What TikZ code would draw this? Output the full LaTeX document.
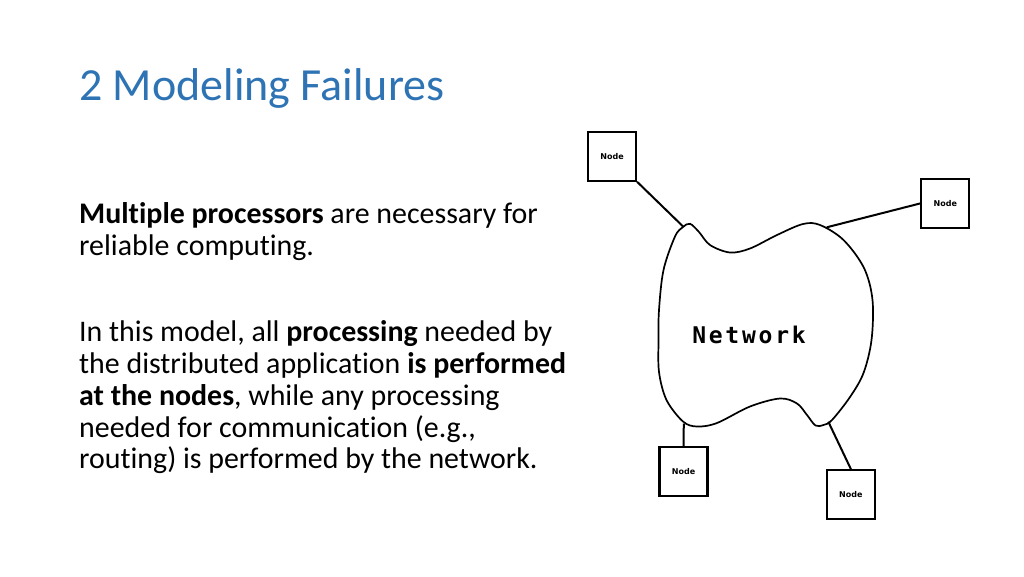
\documentclass[tikz,border=0pt]{standalone}
\usepackage{fontspec}
\setmainfont{Carlito}[Ligatures={NoCommon}]
\newfontfamily\netfont[LetterSpace=12]{DejaVu Sans Mono}
\newfontfamily\nodefont{DejaVu Sans}
\definecolor{titleblue}{RGB}{46,116,181}
\begin{document}
\begin{tikzpicture}[x=1pt,y=-1pt,
  titletext/.style={anchor=base west,inner sep=0,text=titleblue,font=\fontsize{46}{56}\selectfont},
  bodyline/.style={anchor=base west,inner sep=0,font=\fontsize{29.9}{32}\selectfont},
  nodebox/.style={draw,line width=2.1pt,minimum width=48pt,minimum height=49pt,inner sep=0,font=\nodefont\bfseries\fontsize{8}{8}\selectfont},
  link/.style={line width=2pt},
  blob/.style={line width=1.7pt}]
\useasboundingbox (0,0) rectangle (1024,576);
\fill[white] (0,0) rectangle (1024,576);
% title
\node[titletext] (title) at (79,100) {2 Modeling Failures};
% body text
\node[bodyline] (p1a) at (79,223) {\textbf{Multiple processors} are necessary for};
\node[bodyline] (p1b) at (79,255) {reliable computing.};
\node[bodyline] (p2a) at (79,341.5) {In this model, all \textbf{processing} needed by};
\node[bodyline] (p2b) at (79,373) {the distributed application \textbf{is performed}};
\node[bodyline] (p2c) at (79,405) {\textbf{at the nodes}, while any processing};
\node[bodyline] (p2d) at (79,437) {needed for communication (e.g.,};
\node[bodyline] (p2e) at (79,468.5) {routing) is performed by the network.};
% network blob
\draw[blob] plot[smooth cycle,tension=0.55] coordinates {
 (690,223.8) (683,227) (675,236.5) (663.5,270) (659,310) (658.5,340) (659,372)
 (666.5,400) (683,421.5) (697,426.5) (717,423) (750,406.5) (780,398.5) (797,403.5)
 (807,415) (815.5,425.5) (823.5,425) (832,420) (850,397) (863.5,373) (871.5,340)
 (872.5,300) (864,268) (843.5,240) (820,225) (803,224) (777,235) (750,248.5)
 (730,252.5) (710,245) (699,232)};
\node[inner sep=0,font=\netfont\bfseries\fontsize{23}{24}\selectfont] (net) at (749,335) {Network};
% attachment points on the blob
\coordinate (aTL) at (683.3,226.7);
\coordinate (aTR) at (826.7,227.3);
\coordinate (aBL) at (683.8,423.5);
\coordinate (aBR) at (828.3,421.7);
% nodes
\node[nodebox] (nTL) at (612,156.2) {Node};
\node[nodebox] (nTR) at (945.4,203.4) {Node};
\node[nodebox] (nBL) at (683.5,471.4) {Node};
\node[nodebox] (nBR) at (850.9,494.7) {Node};
% connectors
\draw[link] (nTL.south east) -- (aTL);
\draw[link] (nTR.west) -- (aTR);
\draw[link] (aBL) -- (nBL.north);
\draw[link] (aBR) -- (nBR.north);
\end{tikzpicture}
\end{document}
